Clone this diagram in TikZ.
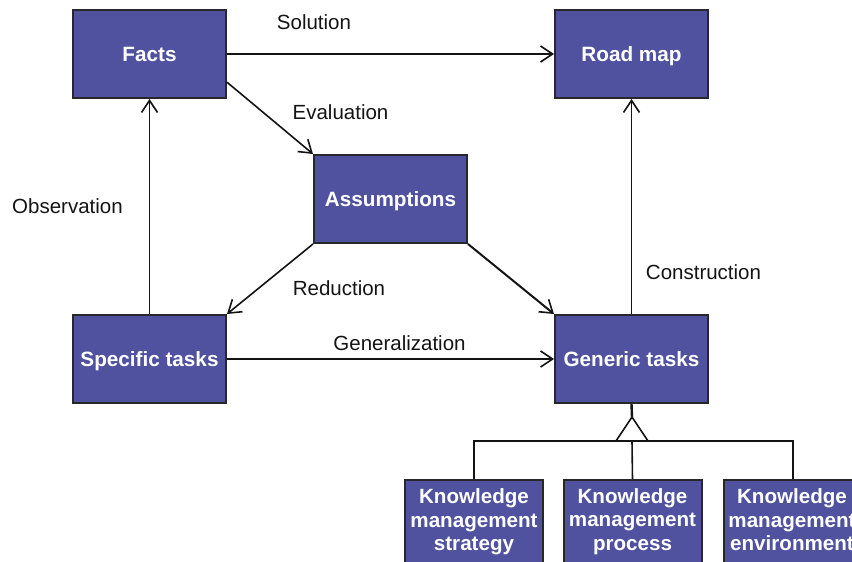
\documentclass[tikz,border=0pt]{standalone}
\usepackage{fontspec}
\setmainfont{Liberation Sans}
\usetikzlibrary{arrows.meta}
\definecolor{boxfill}{RGB}{80,82,160}
\definecolor{boxline}{RGB}{40,40,44}
\definecolor{ink}{RGB}{20,20,20}
\begin{document}
\begin{tikzpicture}[x=1pt,y=-1pt,
  box/.style={draw=boxline, line width=2pt, fill=boxfill, minimum width=153pt, minimum height=88pt,
    inner sep=0pt, text=white, font=\fontsize{20.7}{23}\selectfont\bfseries, text height=15pt, text depth=0pt},
  kmbox/.style={draw=boxline, line width=2pt, fill=boxfill, minimum width=138pt, minimum height=110pt,
    inner sep=0pt, anchor=north},
  kmtext/.style={text=white, font=\fontsize{20.6}{23.5}\selectfont\bfseries, align=center, inner sep=0pt, anchor=north},
  lbl/.style={text=ink, font=\fontsize{20.5}{23}\selectfont, inner sep=0pt, anchor=base},
  flow/.style={draw=ink, line width=1.6pt, -{Straight Barb[length=12pt,width=16pt,line width=1.6pt]}},
  link/.style={draw=ink, line width=1.6pt}
]
\useasboundingbox (0,0) rectangle (852,562);
\clip (0,0) rectangle (852,562);

% main boxes
\node[box] (facts)   at (149.5,54)  {Facts};
\node[box] (roadmap) at (631.5,54)  {Road map};
\node[box] (assume)  at (390.5,199) {Assumptions};
\node[box] (spec)    at (149.5,359) {Specific tasks};
\node[box] (gen)     at (631.5,359) {Generic tasks};

% knowledge management boxes (cut at the lower edge)
\node[kmbox] (kms) at (474,479) {};
\node[kmbox] (kmp) at (632.5,479) {};
\node[kmbox] (kme) at (793,479) {};
\node[kmtext] (kmst) at (474,488.5)   {Knowledge\\management\\strategy};
\node[kmtext] (kmpt) at (632.5,488)   {Knowledge\\management\\process};
\node[kmtext] (kmet) at (792,488.5)   {Knowledge\\management\\environment};

% connectors
\draw[flow] (facts.east |- roadmap.west) -- (roadmap.west);
\draw[flow] (facts.-20) -- (assume.north west);
\draw[flow] (assume.south west) -- (spec.north east);
\draw[flow, line width=2pt] (assume.south east) -- (gen.north west);
\draw[flow] (spec.north) -- (facts.south);
\draw[flow] (spec.east) -- (gen.west);
\draw[flow] (gen.north) -- (roadmap.south);

% generalisation triangle
\coordinate (apex) at (632,417);
\coordinate (tribase) at (632,441);
\draw[link, line width=2.4pt] (gen.south) -- (apex);
\draw[link, line join=miter] (apex) -- (616,441) -- (648,441) -- cycle;
\draw[link] (kms.north) |- (tribase) -| (kme.north);
\draw[link] (tribase) -- (kmp.north);

% connector labels
\node[lbl] (lsol)  at (314,30)    {Solution};
\node[lbl] (leval) at (340.5,119) {Evaluation};
\node[lbl] (lobs)  at (67.5,213)  {Observation};
\node[lbl] (lred)  at (339,295)   {Reduction};
\node[lbl] (lgen)  at (399.5,350) {Generalization};
\node[lbl] (lcon)  at (703.5,279) {Construction};
\end{tikzpicture}
\end{document}
